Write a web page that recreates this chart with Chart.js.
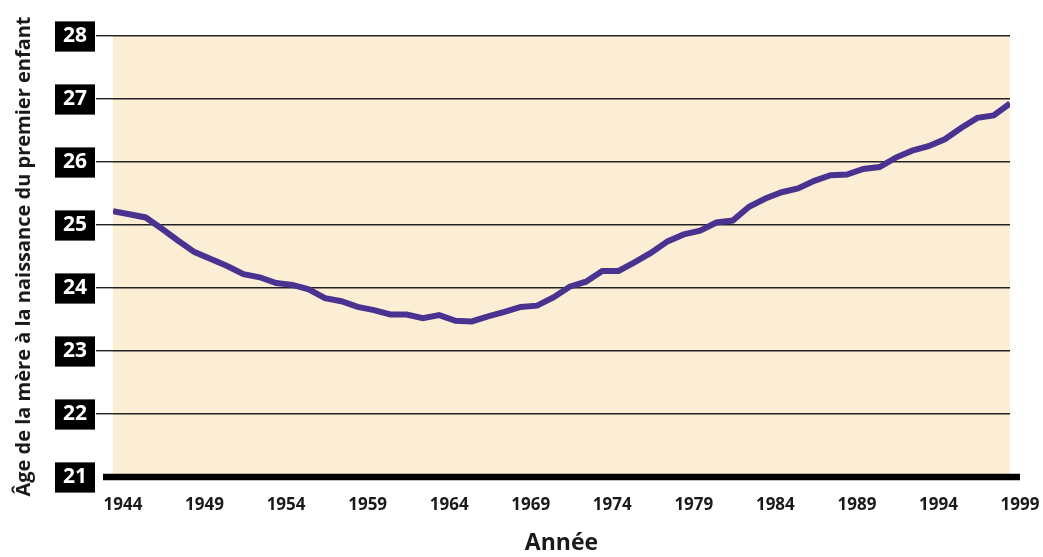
<!DOCTYPE html>
<html lang="fr">
<head>
    <meta charset="UTF-8">
    <title>Âge de la mère à la naissance du premier enfant</title>
    <script src="https://cdn.jsdelivr.net/npm/chart.js@4.4.0/dist/chart.umd.min.js"></script>
    <style>
        html, body { margin: 0; padding: 0; background: #fff; }
        #wrap { width: 1043px; height: 557px; }
    </style>
</head>
<body>
<div id="wrap">
    <canvas id="chart" width="1043" height="557"></canvas>
</div>
<script>
    let years = [
        1944, 1945, 1946, 1947, 1948, 1949, 1950, 1951, 1952, 1953,
        1954, 1955, 1956, 1957, 1958, 1959, 1960, 1961, 1962, 1963,
        1964, 1965, 1966, 1967, 1968, 1969, 1970, 1971, 1972, 1973,
        1974, 1975, 1976, 1977, 1978, 1979, 1980, 1981, 1982, 1983,
        1984, 1985, 1986, 1987, 1988, 1989, 1990, 1991, 1992, 1993,
        1994, 1995, 1996, 1997, 1998, 1999,
    ]
    let ages = [
        25.22, 25.17, 25.12, 24.94, 24.75, 24.57, 24.46, 24.35, 24.22, 24.17,
        24.08, 24.05, 23.98, 23.84, 23.79, 23.70, 23.65, 23.58, 23.58, 23.52,
        23.57, 23.48, 23.47, 23.55, 23.62, 23.70, 23.72, 23.85, 24.02, 24.10,
        24.27, 24.27, 24.41, 24.56, 24.74, 24.85, 24.91, 25.04, 25.07, 25.29,
        25.42, 25.52, 25.58, 25.70, 25.79, 25.80, 25.89, 25.92, 26.07, 26.18,
        26.25, 26.36, 26.54, 26.70, 26.74, 26.93,
    ]
    let yearTicks = [1944, 1949, 1954, 1959, 1964, 1969, 1974, 1979, 1984, 1989, 1994, 1999]
    let ageTicks = [21, 22, 23, 24, 25, 26, 27, 28]

    let font = "'Open Sans', 'DejaVu Sans', sans-serif"

    // fond beige de la zone de tracé + axe horizontal épais
    let plotDecor = {
        id: 'plotDecor',
        beforeDraw(chart) {
            let a = chart.chartArea
            let c = chart.ctx
            c.save()
            c.fillStyle = '#fceed5'
            c.fillRect(a.left, a.top, a.right - a.left, a.bottom - a.top)
            c.restore()
        },
        beforeDatasetsDraw(chart) {
            let a = chart.chartArea
            let c = chart.ctx
            let y = chart.scales.y.getPixelForValue(ageTicks[0])
            c.save()
            c.strokeStyle = '#000'
            c.lineWidth = 6.5
            c.beginPath()
            c.moveTo(a.left - 10, y)
            c.lineTo(a.right + 10, y)
            c.stroke()
            c.restore()
        },
    }

    let ctx = document.getElementById('chart').getContext('2d')
    let chart = new Chart(ctx, {
        type: 'line',
        data: {
            datasets: [{
                data: years.map((yr, i) => ({x: yr, y: ages[i]})),
                borderColor: '#4a3290',
                borderWidth: 6,
                pointRadius: 0,
                tension: 0,
                fill: false,
            }],
        },
        options: {
            responsive: false,
            animation: false,
            layout: {
                padding: {left: 0, right: 33, top: 36, bottom: 0},
            },
            plugins: {
                legend: {display: false},
                tooltip: {enabled: false},
            },
            scales: {
                x: {
                    type: 'linear',
                    min: years[0],
                    max: years[years.length - 1],
                    afterBuildTicks: s => {
                        s.ticks = yearTicks.map(v => ({value: v}))
                    },
                    afterFit: s => {
                        s.height = 80
                    },
                    grid: {display: false},
                    border: {display: false},
                    ticks: {
                        autoSkip: false,
                        maxRotation: 0,
                        labelOffset: 10,
                        padding: 10,
                        color: '#1a1a1a',
                        font: {family: font, size: 17, weight: 'bold'},
                        callback: v => String(v),
                    },
                    title: {
                        display: true,
                        text: 'Année',
                        color: '#1a1a1a',
                        font: {family: font, size: 23, weight: 'bold'},
                        padding: {top: 0, bottom: 0},
                    },
                },
                y: {
                    min: 21,
                    max: 28,
                    afterBuildTicks: s => {
                        s.ticks = ageTicks.map(v => ({value: v}))
                    },
                    afterFit: s => {
                        s.width = 113
                    },
                    border: {display: false},
                    grid: {
                        color: c => (c.tick && c.tick.value === ageTicks[0]) ? 'rgba(0,0,0,0)' : '#222',
                        lineWidth: 1.4,
                        tickLength: 17,
                        drawTicks: true,
                    },
                    ticks: {
                        color: '#fff',
                        padding: 9,
                        font: {family: font, size: 21, weight: 'bold'},
                        showLabelBackdrop: true,
                        backdropColor: '#000',
                        backdropPadding: {left: 8, right: 8, top: 2, bottom: 3},
                    },
                    title: {
                        display: true,
                        text: 'Âge de la mère à la naissance du premier enfant',
                        color: '#1a1a1a',
                        font: {family: font, size: 20, weight: 'bold'},
                        padding: {top: 12, bottom: 0},
                    },
                },
            },
        },
        plugins: [plotDecor],
    })
</script>
</body>
</html>
